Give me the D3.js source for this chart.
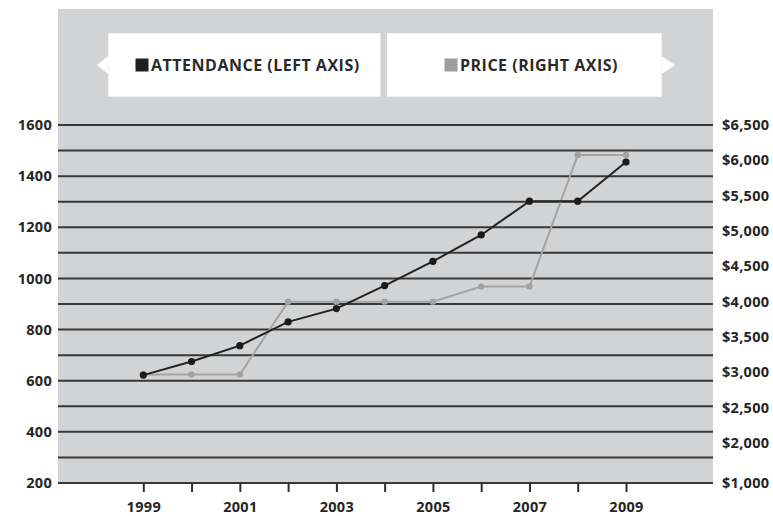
<!DOCTYPE html>
<html>
<head>
<meta charset="utf-8">
<script src="https://cdn.jsdelivr.net/npm/d3@7"></script>
<style>
  html, body { margin: 0; padding: 0; background: #ffffff; }
  svg { display: block; }
  text { font-family: "Open Sans", "DejaVu Sans", sans-serif; }
</style>
</head>
<body>
<svg id="chart" width="773" height="516"></svg>
<script>
// Yearly attendance (left axis) and ticket price (right axis)
const years = [1999, 2000, 2001, 2002, 2003, 2004, 2005, 2006, 2007, 2008, 2009];
const attendance = [622, 675, 737, 830, 882, 972, 1067, 1170, 1302, 1302, 1455];
const price = [2970, 2970, 2970, 4000, 4000, 4000, 4000, 4215, 4215, 6075, 6075];

const leftTicks = [200, 400, 600, 800, 1000, 1200, 1400, 1600];
const gridValues = d3.range(200, 1601, 100);
const rightTicks = [1000, 2000, 2500, 3000, 3500, 4000, 4500, 5000, 5500, 6000, 6500];
const yearLabels = [1999, 2001, 2003, 2005, 2007, 2009];

const legendItems = [
  { label: "ATTENDANCE (LEFT AXIS)", color: "#1f1f1f" },
  { label: "PRICE (RIGHT AXIS)", color: "#9c9c9c" }
];

const svg = d3.select("#chart");
const plot = { left: 58, right: 713, top: 125, bottom: 483, bgTop: 9 };
const plotW = plot.right - plot.left;
const plotH = plot.bottom - plot.top;

const labelStyle = sel => sel
  .attr("font-family", "'Open Sans', sans-serif")
  .attr("font-size", 14.5).attr("font-weight", 700)
  .attr("letter-spacing", 0.3)
  .attr("fill", "#262626");

// background panel
svg.append("rect")
  .attr("x", plot.left).attr("y", plot.bgTop)
  .attr("width", plotW).attr("height", plot.bottom - plot.bgTop)
  .attr("fill", "#d2d3d5");

const g = svg.append("g").attr("transform", `translate(${plot.left},${plot.top})`);

const x = d3.scaleLinear().domain([1999, 2009]).range([85.3, 568]);
const yL = d3.scaleLinear().domain([200, 1600]).range([plotH, 0]);
// right axis: the bottom step from $1,000 to $2,000 is compressed
const yR = d3.scaleLinear().domain([1000, 2000, 6500]).range([plotH, plotH - 40, 0]);

// horizontal rules
g.append("g").selectAll("line").data(gridValues).join("line")
  .attr("x1", 0).attr("x2", plotW)
  .attr("y1", d => yL(d)).attr("y2", d => yL(d))
  .attr("stroke", "#383838").attr("stroke-width", 2);

// left axis labels
const leftAxis = d3.axisLeft(yL).tickValues(leftTicks).tickSize(0).tickPadding(6)
  .tickFormat(d3.format("d"));
const la = g.append("g").call(leftAxis);
la.select(".domain").remove();
la.selectAll("text").call(labelStyle);

// right axis labels
const rightAxis = d3.axisRight(yR).tickValues(rightTicks).tickSize(0).tickPadding(9)
  .tickFormat(d => "$" + d3.format(",")(d));
const ra = g.append("g").attr("transform", `translate(${plotW},0)`).call(rightAxis);
ra.select(".domain").remove();
ra.selectAll("text").call(labelStyle);

// bottom axis: a tick each year, labels on odd years
const bottomAxis = d3.axisBottom(x).tickValues(years).tickSize(9).tickPadding(10)
  .tickFormat(d => yearLabels.includes(d) ? String(d) : "");
const ba = g.append("g").attr("transform", `translate(0,${plotH})`).call(bottomAxis);
ba.select(".domain").remove();
ba.selectAll("line").attr("stroke", "#2e2e2e").attr("stroke-width", 2);
ba.selectAll("text").call(labelStyle);

// price series
const priceLine = d3.line().x((d, i) => x(years[i])).y(d => yR(d));
g.append("path").datum(price)
  .attr("d", priceLine).attr("fill", "none")
  .attr("stroke", "#a3a3a3").attr("stroke-width", 2);
g.append("g").selectAll("circle").data(price).join("circle")
  .attr("cx", (d, i) => x(years[i])).attr("cy", d => yR(d))
  .attr("r", 3.2).attr("fill", "#a3a3a3");

// attendance series
const attLine = d3.line().x((d, i) => x(years[i])).y(d => yL(d));
g.append("path").datum(attendance)
  .attr("d", attLine).attr("fill", "none")
  .attr("stroke", "#222222").attr("stroke-width", 2);
g.append("g").selectAll("circle").data(attendance).join("circle")
  .attr("cx", (d, i) => x(years[i])).attr("cy", d => yL(d))
  .attr("r", 3.6).attr("fill", "#1a1a1a");

// legend band
const leg = { left: 108.3, right: 661.7, top: 33.3, bottom: 96.7, gap: 6.5 };
const legMid = (leg.top + leg.bottom) / 2;
const legSplit = 380.5;
const lg = svg.append("g");
lg.append("path")
  .attr("d", `M${leg.left},${legMid - 9} L${leg.left - 11.5},${legMid} L${leg.left},${legMid + 9} Z`)
  .attr("fill", "#ffffff");
lg.append("path")
  .attr("d", `M${leg.right},${legMid - 9} L${leg.right + 13.5},${legMid} L${leg.right},${legMid + 9} Z`)
  .attr("fill", "#ffffff");
const boxes = [
  { x0: leg.left, x1: legSplit, sw: 135.5 },
  { x0: legSplit + leg.gap, x1: leg.right, sw: 444.5 }
];
boxes.forEach((b, i) => {
  lg.append("rect")
    .attr("x", b.x0).attr("y", leg.top)
    .attr("width", b.x1 - b.x0).attr("height", leg.bottom - leg.top)
    .attr("fill", "#ffffff");
  lg.append("rect")
    .attr("x", b.sw).attr("y", legMid - 6.5)
    .attr("width", 13).attr("height", 13)
    .attr("fill", legendItems[i].color);
  lg.append("text")
    .attr("x", b.sw + 15.5).attr("y", legMid)
    .attr("dy", "0.35em")
    .attr("font-size", 16).attr("font-weight", 700)
    .attr("letter-spacing", 0.5)
    .attr("fill", "#2a2a2a")
    .text(legendItems[i].label);
});
</script>
</body>
</html>
